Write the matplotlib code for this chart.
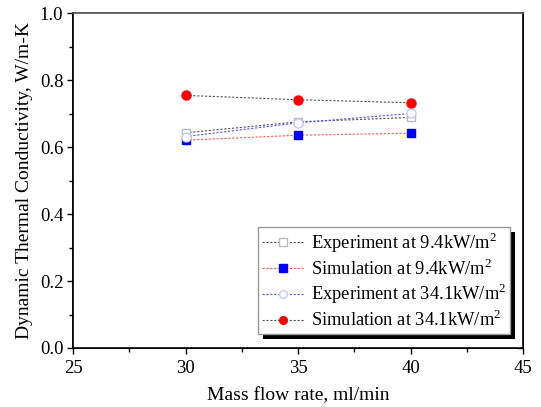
import matplotlib
matplotlib.use("Agg")
import matplotlib.pyplot as plt
from matplotlib.patches import Rectangle

plt.rcParams["font.family"] = ["Liberation Serif", "DejaVu Serif"]
plt.rcParams["mathtext.fontset"] = "custom"
plt.rcParams["mathtext.rm"] = "Liberation Serif"

# data
flow = [30, 35, 40]
exp_94 = [0.643, 0.676, 0.689]
sim_94 = [0.621, 0.636, 0.642]
exp_341 = [0.632, 0.673, 0.701]
sim_341 = [0.755, 0.742, 0.733]

labels = [
    r"Experiment at 9.4kW/m$^2$",
    r"Simulation at 9.4kW/m$^2$",
    r"Experiment at 34.1kW/m$^2$",
    r"Simulation at 34.1kW/m$^2$",
]

fig = plt.figure(figsize=(5.41, 4.07), dpi=100)
ax = fig.add_axes([0.135, 0.145, 0.832, 0.822])

dots = (0, (2.0, 1.5))
ax.plot(flow, exp_94, linestyle=dots, color="#555555", lw=0.8,
        marker="s", ms=6, mfc="white", mec="#bbbbbb", mew=1.0, label=labels[0])
ax.plot(flow, sim_94, linestyle=dots, color="#ff5555", lw=0.8,
        marker="s", ms=6, mfc="#0000ff", mec="#0000ff", label=labels[1])
ax.plot(flow, exp_341, linestyle=dots, color="#5555ff", lw=0.8,
        marker="o", ms=6.5, mfc="white", mec="#c8c8ff", mew=1.0, label=labels[2])
ax.plot(flow, sim_341, linestyle=dots, color="#555555", lw=0.8,
        marker="o", ms=6.5, mfc="#ff0000", mec="#ff0000", label=labels[3])

ax.set_xlim(25, 45)
ax.set_ylim(0.0, 1.0)
ax.set_xticks([25, 30, 35, 40, 45])
ax.set_xticks([27.5, 32.5, 37.5, 42.5], minor=True)
ax.set_yticks([0.0, 0.2, 0.4, 0.6, 0.8, 1.0])
ax.set_yticks([0.1, 0.3, 0.5, 0.7, 0.9], minor=True)
ax.set_yticklabels(["0.0", "0.2", "0.4", "0.6", "0.8", "1.0"])

ax.tick_params(axis="both", which="both", direction="out", labelsize=13.5,
               width=1.0, color="black")
ax.tick_params(which="major", length=4)
ax.tick_params(which="minor", length=3)
ax.tick_params(axis="x", pad=5)
ax.tick_params(axis="y", pad=3)

# right axis: inward ticks, no labels
ax_r = ax.twinx()
ax_r.set_ylim(0.0, 1.0)
ax_r.set_yticks([0.0, 0.2, 0.4, 0.6, 0.8, 1.0])
ax_r.set_yticks([0.1, 0.3, 0.5, 0.7, 0.9], minor=True)
ax_r.tick_params(axis="y", which="both", direction="in", labelright=False,
                 width=1.0, color="black")
ax_r.tick_params(which="major", length=4)
ax_r.tick_params(which="minor", length=3)
ax_r.set_zorder(ax.get_zorder() - 1)
ax_r.patch.set_visible(False)

for a in (ax, ax_r):
    for side in ["left", "right", "bottom"]:
        a.spines[side].set_linewidth(1.2)
        a.spines[side].set_color("black")
    a.spines["top"].set_linewidth(1.2)
    a.spines["top"].set_color("#555555")

ax.set_xlabel("Mass flow rate, ml/min", fontsize=14, labelpad=7)
ax.set_ylabel("Dynamic Thermal Conductivity, W/m-K", fontsize=14, labelpad=5)

leg = ax.legend(loc="upper left", bbox_to_anchor=(0.411, 0.3615),
                borderaxespad=0, fontsize=13.3, frameon=True, fancybox=False,
                framealpha=1.0, handlelength=2.3, handletextpad=0.35,
                labelspacing=0.2, borderpad=0.2, markerscale=0.85)
leg.get_frame().set_edgecolor("#999999")
leg.get_frame().set_linewidth(1.0)
leg.set_zorder(5)

# black drop shadow behind the legend box
fig.canvas.draw()
bb = leg.get_window_extent().transformed(fig.transFigure.inverted())
dx, dy = 5 / 541, 5 / 407
shadow = Rectangle((bb.x0 + dx, bb.y0 - dy), bb.width, bb.height,
                   transform=fig.transFigure, facecolor="black",
                   edgecolor="none", zorder=4, clip_on=False)
ax.add_artist(shadow)

fig.savefig("out.png", dpi=100)
